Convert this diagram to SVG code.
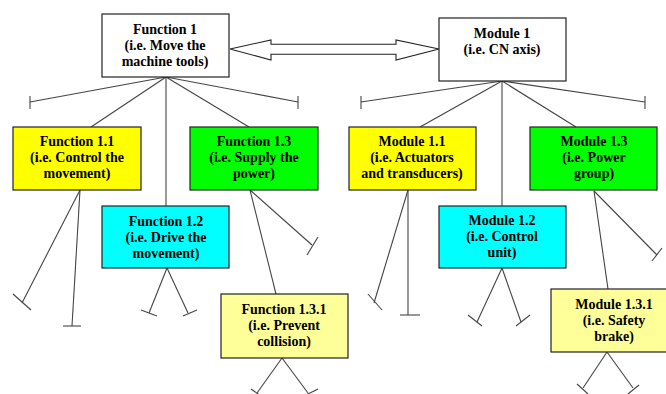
<svg xmlns="http://www.w3.org/2000/svg" width="666" height="394" viewBox="0 0 666 394">
<style>
.box{stroke:#222;stroke-width:1.2}
.w{fill:#ffffff}.y{fill:#ffff00}.g{fill:#00ff00}.c{fill:#00ffff}.ly{fill:#ffff99}
text{font-family:"Liberation Serif","Times New Roman",serif;font-weight:bold;font-size:14px;fill:#000;text-anchor:middle}
.cn line,.cn polyline{stroke:#444;stroke-width:1.1;fill:none}
</style>
<rect width="666" height="394" fill="#ffffff"/>
<g id="connectors" class="cn">
<polygon points="230,49 271,40 271,44.3 396,44.3 396,40 439,49 396,60 396,54.3 271,54.3 271,60" fill="#fff" stroke="#222" stroke-width="1.1"/>
<line x1="166" y1="77" x2="30" y2="102"/><line x1="30" y1="96" x2="30" y2="109"/>
<line x1="166" y1="77" x2="298" y2="102"/><line x1="298" y1="96" x2="298" y2="109"/>
<line x1="166" y1="77" x2="91" y2="127"/>
<line x1="166" y1="77" x2="249" y2="127"/>
<line x1="166" y1="77" x2="166" y2="206"/>
<line x1="502" y1="81" x2="361" y2="102"/><line x1="361" y1="96" x2="361" y2="109"/>
<line x1="502" y1="81" x2="645" y2="102"/><line x1="645" y1="96" x2="645" y2="109"/>
<line x1="502" y1="81" x2="420" y2="127"/>
<line x1="502" y1="81" x2="576" y2="127"/>
<line x1="502" y1="81" x2="502" y2="206"/>
<line x1="80" y1="190" x2="22" y2="303"/><line x1="13" y1="294" x2="31" y2="310"/>
<line x1="80" y1="190" x2="72" y2="326"/><line x1="63" y1="326" x2="81" y2="326"/>
<line x1="167" y1="268" x2="149" y2="313"/><line x1="141" y1="310" x2="157" y2="316"/>
<line x1="167" y1="268" x2="188" y2="313"/><line x1="183" y1="316" x2="197" y2="310"/>
<line x1="250" y1="190" x2="312" y2="245"/><line x1="307" y1="255" x2="318" y2="237"/>
<line x1="250" y1="190" x2="276" y2="294"/>
<line x1="282" y1="358" x2="257" y2="393"/><line x1="251" y1="389" x2="264" y2="398"/>
<line x1="282" y1="358" x2="308" y2="393"/><line x1="302" y1="397" x2="318" y2="389"/>
<line x1="408" y1="190" x2="374" y2="303"/><line x1="368" y1="294" x2="382" y2="310"/>
<line x1="408" y1="190" x2="408" y2="315"/><line x1="400" y1="315" x2="420" y2="315"/>
<line x1="502" y1="268" x2="477" y2="322"/><line x1="468" y1="315" x2="482" y2="326"/>
<line x1="502" y1="268" x2="521" y2="322"/><line x1="516" y1="326" x2="530" y2="315"/>
<line x1="594" y1="191" x2="657" y2="255"/><line x1="652" y1="261" x2="662" y2="248"/>
<line x1="594" y1="191" x2="608" y2="289"/>
<line x1="607" y1="352" x2="583" y2="388"/><line x1="577" y1="384" x2="588" y2="394"/>
<line x1="607" y1="352" x2="633" y2="388"/><line x1="628" y1="394" x2="639" y2="385"/>
</g>
<g id="function1"><rect class="box w" x="102" y="14" width="127" height="63"/>
<text x="165" y="34">Function 1</text><text x="165" y="50">(i.e. Move the</text><text x="165" y="66">machine tools)</text></g>
<g id="module1"><rect class="box w" x="439" y="18" width="127" height="63"/>
<text x="502" y="38">Module 1</text><text x="502" y="54">(i.e. CN axis)</text></g>
<g id="function1_1"><rect class="box y" x="13" y="127" width="128" height="63"/>
<text x="77" y="146">Function 1.1</text><text x="77" y="162">(i.e. Control the</text><text x="77" y="178">movement)</text></g>
<g id="function1_2"><rect class="box c" x="102" y="206" width="127" height="62"/>
<text x="166" y="226">Function 1.2</text><text x="166" y="242">(i.e. Drive the</text><text x="166" y="258">movement)</text></g>
<g id="function1_3"><rect class="box g" x="190" y="127" width="128" height="63"/>
<text x="254" y="146">Function 1.3</text><text x="254" y="162">(i.e. Supply the</text><text x="254" y="178">power)</text></g>
<g id="function1_3_1"><rect class="box ly" x="221" y="294" width="127" height="64"/>
<text x="284" y="314">Function 1.3.1</text><text x="284" y="330">(i.e. Prevent</text><text x="284" y="346">collision)</text></g>
<g id="module1_1"><rect class="box y" x="349" y="127" width="127" height="63"/>
<text x="412" y="146">Module 1.1</text><text x="412" y="162">(i.e. Actuators</text><text x="412" y="178">and transducers)</text></g>
<g id="module1_2"><rect class="box c" x="439" y="206" width="127" height="62"/>
<text x="502" y="225">Module 1.2</text><text x="502" y="241">(i.e. Control</text><text x="502" y="257">unit)</text></g>
<g id="module1_3"><rect class="box g" x="530" y="127" width="127" height="63"/>
<text x="594" y="146">Module 1.3</text><text x="594" y="162">(i.e. Power</text><text x="594" y="178">group)</text></g>
<g id="module1_3_1"><rect class="box ly" x="551" y="289" width="127" height="63"/>
<text x="614" y="309">Module 1.3.1</text><text x="614" y="325">(i.e. Safety</text><text x="614" y="341">brake)</text></g>
</svg>
